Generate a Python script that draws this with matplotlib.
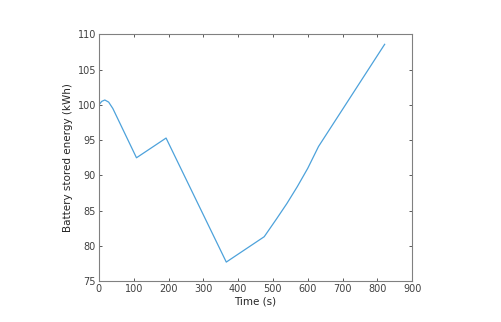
import matplotlib.pyplot as plt

time_s = [0, 8, 17, 28, 40, 108, 193, 366, 475, 510, 540, 570, 600, 615, 631, 821]
energy_kwh = [100.0, 100.5, 100.7, 100.4, 99.5, 92.5, 95.3, 77.7, 81.3, 83.8, 86.0, 88.4, 91.0, 92.5, 94.1, 108.6]

x_ticks = list(range(0, 901, 100))
y_ticks = list(range(75, 111, 5))

fig = plt.figure(figsize=(5.02, 3.22), dpi=100)
ax = fig.add_axes([0.197, 0.127, 0.624, 0.766])

ax.plot(time_s, energy_kwh, color="#4DA2DB", linewidth=0.9)

ax.set_xlim(0, 900)
ax.set_ylim(75, 110)
ax.set_xticks(x_ticks)
ax.set_yticks(y_ticks)
ax.tick_params(direction="in", length=2.5, width=0.6, labelsize=7, colors="#404040",
               top=True, right=True, pad=2)
for s in ax.spines.values():
    s.set_color("#808080")
    s.set_linewidth(0.8)

ax.set_xlabel("Time (s)", fontsize=7.5, color="#262626", labelpad=2)
ax.set_ylabel("Battery stored energy (kWh)", fontsize=7.5, color="#262626", labelpad=3)

fig.savefig("out.png", dpi=100)
